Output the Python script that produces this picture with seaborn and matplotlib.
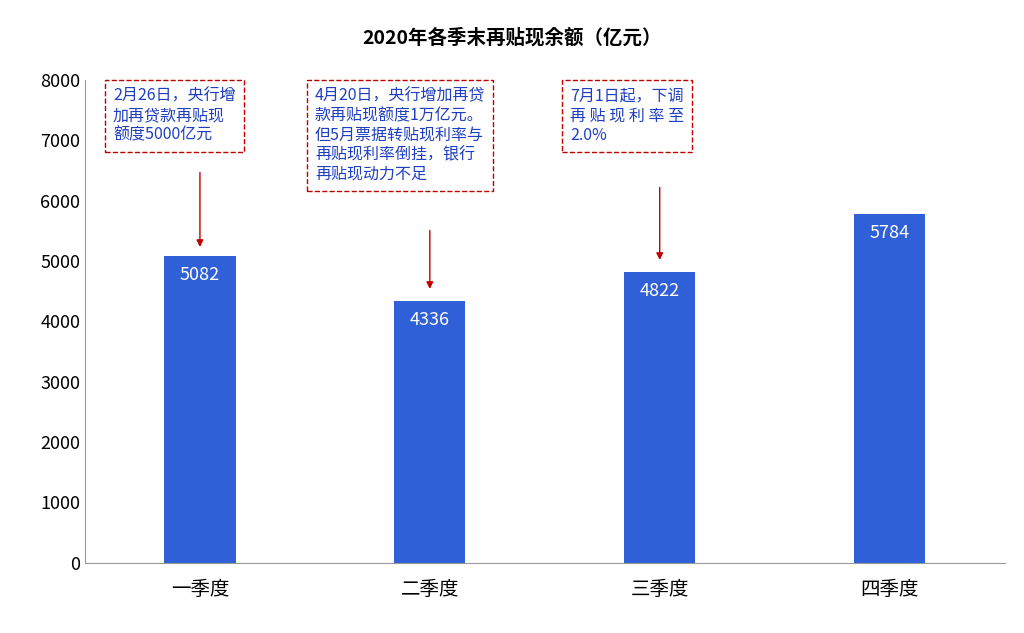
import matplotlib
matplotlib.use("Agg")
import matplotlib.pyplot as plt
from matplotlib import font_manager as fm
import seaborn as sns
import pandas as pd

categories = ["一季度", "二季度", "三季度", "四季度"]
values = [5082, 4336, 4822, 5784]
notes = ["2月26日，央行增\n加再贷款再贴现\n额度5000亿元",
         "4月20日，央行增加再贷\n款再贴现额度1万亿元。\n但5月票据转贴现利率与\n再贴现利率倒挂，银行\n再贴现动力不足",
         "7月1日起，下调\n再 贴 现 利 率 至\n2.0%"]
note_x = [-0.378, 0.5, 1.609]
arrows = [(0, 6509, 5184), (1, 5549, 4489), (2, 6261, 4969)]

cjk = [f.name for f in fm.fontManager.ttflist if "CJK" in f.name]
for f in fm.findSystemFonts():
    if "CJK" in f:
        try:
            fm.fontManager.addfont(f)
            cjk.append(fm.FontProperties(fname=f).get_name())
        except Exception:
            pass
fam = sorted(set(cjk), key=lambda n: (0 if "SC" in n else 1, n))
plt.rcParams["font.family"] = "sans-serif"
plt.rcParams["font.sans-serif"] = fam + ["DejaVu Sans"]
plt.rcParams["axes.unicode_minus"] = False

fig = plt.figure(figsize=(10.24, 6.33), dpi=100)
ax = fig.add_axes([0.083, 0.111, 0.898, 0.763])
df = pd.DataFrame({"q": categories, "v": values})
sns.barplot(data=df, x="q", y="v", color="#3060d8", saturation=1, width=0.31, ax=ax)
ax.set_xlim(-0.5, 3.5)
ax.set_ylim(0, 8000)
ax.set_yticks(range(0, 8001, 1000))
ax.set_xlabel(""); ax.set_ylabel("")
ax.tick_params(axis="both", labelsize=13, length=0)
ax.tick_params(axis="x", pad=12, labelsize=14)
for s in ["top", "right"]:
    ax.spines[s].set_visible(False)
for s in ["left", "bottom"]:
    ax.spines[s].set_color("#999999")
for i, v in enumerate(values):
    ax.text(i, v - 170, str(v), ha="center", va="top", color="white", fontsize=13)
for x, t in zip(note_x, notes):
    ax.text(x, 7870, t, ha="left", va="top", color="#1f3fc0", fontsize=11.5, linespacing=1.2,
            bbox=dict(boxstyle="square,pad=0.5", fc="white", ec="#c00000", ls="--", lw=1))
for i, y1, y2 in arrows:
    ax.annotate("", xy=(i, y2), xytext=(i, y1),
                arrowprops=dict(arrowstyle="-|>", color="#c00000", lw=1, mutation_scale=10))
fig.suptitle("2020年各季末再贴现余额（亿元）", y=0.955, fontsize=14, fontweight="bold")
fig.savefig("out.png", dpi=100)
